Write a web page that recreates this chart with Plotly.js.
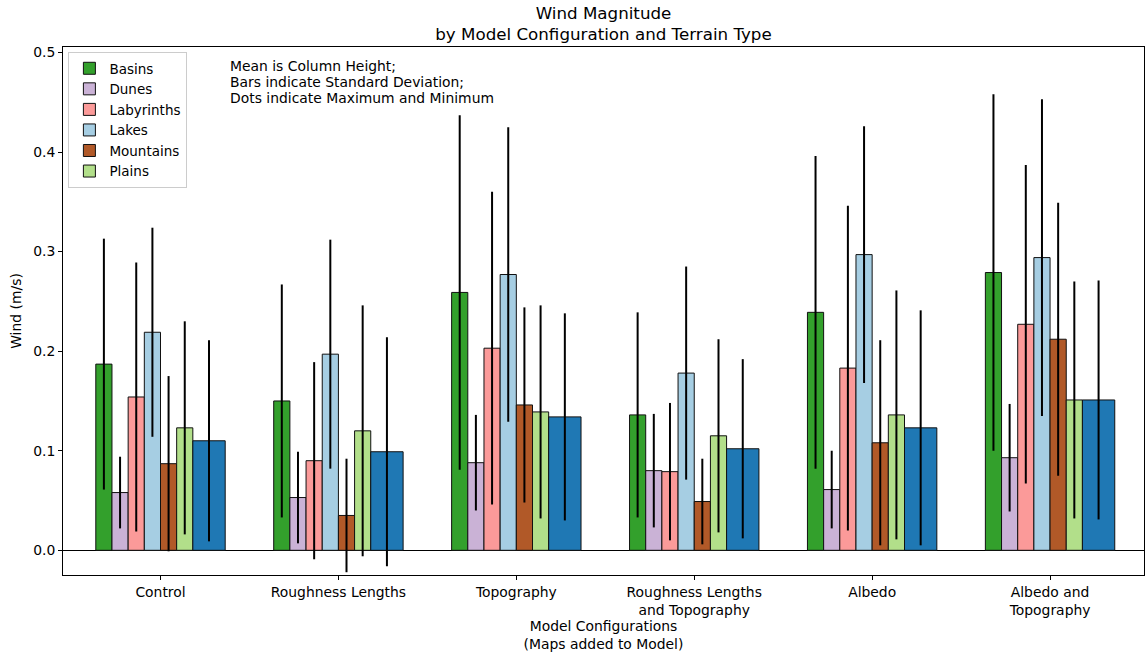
<!DOCTYPE html>
<html>
<head>
<meta charset="utf-8">
<script src="https://cdn.plot.ly/plotly-3.0.1.min.js"></script>
<style>
  html, body { margin: 0; padding: 0; background: #ffffff; }
  #chart { width: 1147px; height: 652px; }
</style>
</head>
<body>
<div id="chart"></div>
<script>
// Model configurations (x categories)
const configurations = [
  'Control',
  'Roughness Lengths',
  'Topography',
  'Roughness Lengths<br>and Topography',
  'Albedo',
  'Albedo and<br>Topography'
];

// Mean wind magnitude (m/s) and standard deviation per terrain type
const basinsMean     = [0.187, 0.150, 0.259, 0.136, 0.239, 0.279];
const basinsStd      = [0.126, 0.117, 0.178, 0.103, 0.157, 0.179];
const dunesMean      = [0.058, 0.053, 0.088, 0.080, 0.061, 0.093];
const dunesStd       = [0.036, 0.046, 0.048, 0.057, 0.039, 0.054];
const labyrinthsMean = [0.154, 0.090, 0.203, 0.079, 0.183, 0.227];
const labyrinthsStd  = [0.135, 0.099, 0.157, 0.069, 0.163, 0.160];
const lakesMean      = [0.219, 0.197, 0.277, 0.178, 0.297, 0.294];
const lakesStd       = [0.105, 0.115, 0.148, 0.107, 0.129, 0.159];
const mountainsMean  = [0.087, 0.035, 0.146, 0.049, 0.108, 0.212];
const mountainsStd   = [0.088, 0.057, 0.098, 0.043, 0.103, 0.137];
const plainsMean     = [0.123, 0.120, 0.139, 0.115, 0.136, 0.151];
const plainsStd      = [0.107, 0.126, 0.107, 0.097, 0.125, 0.119];
// all terrain combined
const allMean        = [0.110, 0.099, 0.134, 0.102, 0.123, 0.151];
const allStd         = [0.101, 0.115, 0.104, 0.090, 0.118, 0.120];

// explanatory note, one entry per line
const noteLines = [
  'Mean is Column Height;',
  'Bars indicate Standard Deviation;',
  'Dots indicate Maximum and Minimum'
];

const FONT = 'DejaVu Sans, Liberation Sans, sans-serif';
const UNIT = 1 / 11;   // single bar width in category units

function barTrace(name, mean, std, color, slot, span, showlegend) {
  return {
    type: 'bar',
    name: name,
    x: configurations,
    y: mean,
    width: span * UNIT,
    offset: slot * UNIT,
    marker: { color: color, line: { color: '#111111', width: 1 } },
    error_y: { type: 'data', array: std, symmetric: true, visible: true,
               color: '#000000', thickness: 2, width: 0 },
    showlegend: showlegend
  };
}

const traces = [
  barTrace('Basins',     basinsMean,     basinsStd,     '#33a02c', -4, 1, true),
  barTrace('Dunes',      dunesMean,      dunesStd,      '#cab2d6', -3, 1, true),
  barTrace('Labyrinths', labyrinthsMean, labyrinthsStd, '#fb9a99', -2, 1, true),
  barTrace('Lakes',      lakesMean,      lakesStd,      '#a6cee3', -1, 1, true),
  barTrace('Mountains',  mountainsMean,  mountainsStd,  '#b15928',  0, 1, true),
  barTrace('Plains',     plainsMean,     plainsStd,     '#b2df8a',  1, 1, true),
  barTrace('All',        allMean,        allStd,        '#1f78b4',  2, 2, false)
];

// note lines stacked with a tight line spacing
const noteAnnotations = noteLines.map((line, i) => ({
  xref: 'paper', yref: 'paper',
  x: 0.153, y: 0.9835 - i * 0.0306, xanchor: 'left', yanchor: 'top', align: 'left',
  showarrow: false,
  text: line,
  font: { family: FONT, size: 13.9, color: '#000000' }
}));

const layout = {
  width: 1147,
  height: 652,
  margin: { l: 63, r: 3, t: 47, b: 77 },
  paper_bgcolor: '#ffffff',
  plot_bgcolor: '#ffffff',
  font: { family: FONT, size: 13.9, color: '#000000' },
  barmode: 'overlay',
  title: {
    text: 'Wind Magnitude<br>by Model Configuration and Terrain Type',
    font: { family: FONT, size: 16.7, color: '#000000' },
    xref: 'paper', x: 0.5, xanchor: 'center',
    yref: 'container', y: 0.9715, yanchor: 'middle'
  },
  xaxis: {
    type: 'category',
    range: [-0.548, 5.528],
    showgrid: false,
    zeroline: false,
    showline: true, mirror: true, linecolor: '#000000', linewidth: 1,
    ticks: 'outside', ticklen: 4, tickcolor: '#000000',
    tickfont: { family: FONT, size: 13.9 },
    title: { text: 'Model Configurations<br>(Maps added to Model)',
             font: { family: FONT, size: 13.9 }, standoff: 3 }
  },
  yaxis: {
    range: [-0.0248, 0.5055],
    tickvals: [0, 0.1, 0.2, 0.3, 0.4, 0.5],
    tickformat: '.1f',
    showgrid: false,
    zeroline: true, zerolinecolor: '#000000', zerolinewidth: 1,
    showline: true, mirror: true, linecolor: '#000000', linewidth: 1,
    ticks: 'outside', ticklen: 4, tickcolor: '#000000',
    tickfont: { family: FONT, size: 13.9 },
    title: { text: 'Wind (m/s)', font: { family: FONT, size: 13.9 }, standoff: 8 }
  },
  legend: {
    x: 0.005, y: 0.9905, xanchor: 'left', yanchor: 'top',
    bgcolor: 'rgba(255,255,255,0.9)',
    bordercolor: '#cccccc', borderwidth: 1,
    font: { family: FONT, size: 13.5 },
    traceorder: 'normal'
  },
  annotations: noteAnnotations
};

Plotly.newPlot('chart', traces, layout, { displayModeBar: false, staticPlot: true });
</script>
</body>
</html>
